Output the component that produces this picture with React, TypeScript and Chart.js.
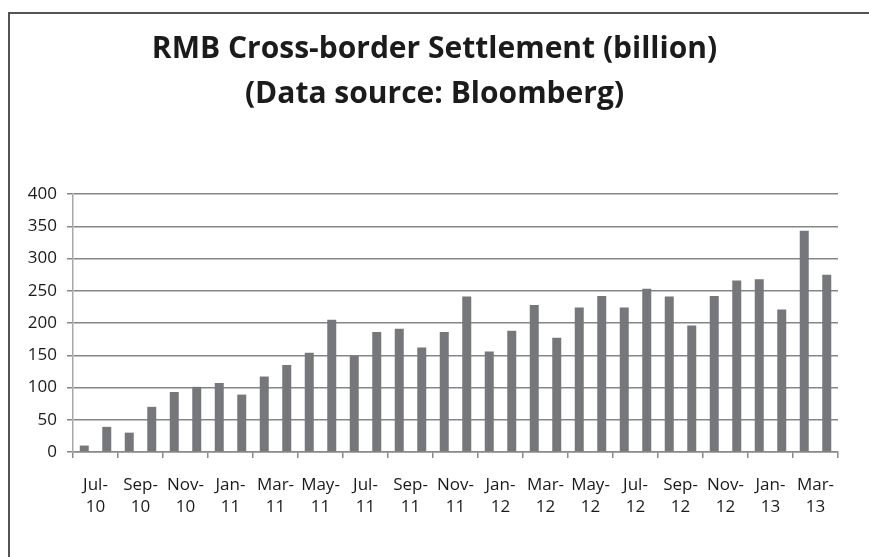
import React, { useEffect, useRef } from "react";
import { Chart, registerables } from "chart.js";

Chart.register(...registerables);

const months: string[] = [
  "Jul-10", "Aug-10", "Sep-10", "Oct-10", "Nov-10", "Dec-10",
  "Jan-11", "Feb-11", "Mar-11", "Apr-11", "May-11", "Jun-11",
  "Jul-11", "Aug-11", "Sep-11", "Oct-11", "Nov-11", "Dec-11",
  "Jan-12", "Feb-12", "Mar-12", "Apr-12", "May-12", "Jun-12",
  "Jul-12", "Aug-12", "Sep-12", "Oct-12", "Nov-12", "Dec-12",
  "Jan-13", "Feb-13", "Mar-13", "Apr-13",
];

const settlement: number[] = [
  10, 39, 30, 70, 93, 101,
  107, 89, 117, 135, 154, 205,
  149, 186, 191, 162, 186, 241,
  156, 188, 228, 177, 224, 242,
  224, 253, 241, 196, 242, 266,
  268, 221, 343, 275,
];

const tickLabels: string[][] = [
  ["Jul-", "10"], ["Sep-", "10"], ["Nov-", "10"],
  ["Jan-", "11"], ["Mar-", "11"], ["May-", "11"], ["Jul-", "11"], ["Sep-", "11"], ["Nov-", "11"],
  ["Jan-", "12"], ["Mar-", "12"], ["May-", "12"], ["Jul-", "12"], ["Sep-", "12"], ["Nov-", "12"],
  ["Jan-", "13"], ["Mar-", "13"],
];

const titleLines: string[] = [
  "RMB Cross-border Settlement (billion)",
  "(Data source: Bloomberg)",
];

export default function App() {
  const canvasRef = useRef<HTMLCanvasElement | null>(null);

  useEffect(() => {
    const canvas = canvasRef.current;
    if (!canvas) return;
    const chart = new Chart(canvas, {
      type: "bar",
      data: {
        labels: months,
        datasets: [
          {
            label: "RMB Cross-border Settlement",
            data: settlement,
            backgroundColor: "#76777b",
            barPercentage: 0.4,
            categoryPercentage: 1.0,
            xAxisID: "x",
            yAxisID: "y",
          },
        ],
      },
      options: {
        responsive: false,
        animation: false,
        maintainAspectRatio: false,
        layout: { padding: 0 },
        plugins: {
          legend: { display: false },
          tooltip: { enabled: false },
          title: {
            display: true,
            text: titleLines,
            color: "#1b1b1b",
            font: { family: "'Open Sans', sans-serif", size: 30, weight: "bold", lineHeight: 1.5 },
            padding: { top: 27, bottom: 77 },
          },
        },
        scales: {
          x: {
            type: "category",
            display: false,
            position: "bottom",
            offset: true,
          },
          xl: {
            type: "category",
            position: "bottom",
            labels: tickLabels as any,
            offset: true,
            grid: {
              offset: true,
              drawOnChartArea: false,
              drawTicks: true,
              tickLength: 6,
              color: "#8a8a8a",
              lineWidth: 1.5,
            },
            border: { display: true, color: "#8a8a8a", width: 1.5 },
            ticks: {
              autoSkip: false,
              maxRotation: 0,
              minRotation: 0,
              padding: 16,
              color: "#1a1a1a",
              font: { family: "'Open Sans', sans-serif", size: 17, lineHeight: 1.3 },
            },
            afterFit: (s: any) => {
              s.height = 105;
            },
          },
          y: {
            type: "linear",
            position: "left",
            min: 0,
            max: 400,
            ticks: {
              stepSize: 50,
              padding: 10,
              color: "#1a1a1a",
              font: { family: "'Open Sans', sans-serif", size: 17 },
            },
            grid: {
              color: "#858585",
              lineWidth: 1.5,
              tickLength: 6,
              drawTicks: true,
            },
            border: { display: true, color: "#a8a8a8", width: 1.5 },
            afterFit: (s: any) => {
              s.width = 73;
            },
          },
          yr: {
            type: "linear",
            position: "right",
            min: 0,
            max: 400,
            grid: { display: false, drawOnChartArea: false, drawTicks: false },
            border: { display: false },
            ticks: { display: false },
            afterFit: (s: any) => {
              s.width = 31;
            },
          },
        },
      },
    });
    return () => chart.destroy();
  }, []);

  return (
    <div>
      <div
        style={{
          position: "fixed",
          left: 8,
          top: 12,
          width: 861,
          height: 545,
          boxSizing: "border-box",
          borderLeft: "2px solid #575252",
          borderTop: "2px solid #575252",
          pointerEvents: "none",
        }}
      />
      <canvas
        ref={canvasRef}
        width={869}
        height={557}
        style={{ position: "fixed", left: 0, top: 0, width: 869, height: 557 }}
      />
    </div>
  );
}
